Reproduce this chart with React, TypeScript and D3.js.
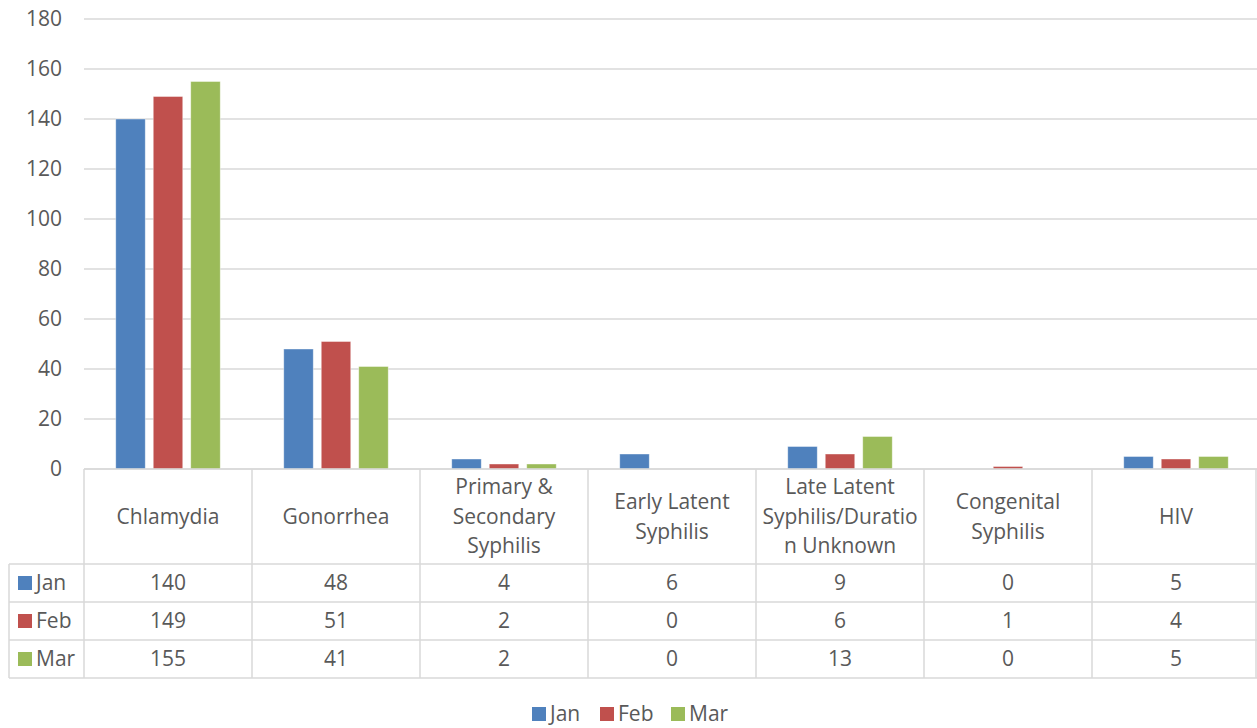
import React from "react";
import * as d3 from "d3";

const categories = [
  "Chlamydia",
  "Gonorrhea",
  "Primary & Secondary Syphilis",
  "Early Latent Syphilis",
  "Late Latent Syphilis/Duration Unknown",
  "Congenital Syphilis",
  "HIV",
];
const categoryLines = [
  ["Chlamydia"],
  ["Gonorrhea"],
  ["Primary &", "Secondary", "Syphilis"],
  ["Early Latent", "Syphilis"],
  ["Late Latent", "Syphilis/Duratio", "n Unknown"],
  ["Congenital", "Syphilis"],
  ["HIV"],
];
const seriesNames = ["Jan", "Feb", "Mar"];
const janValues = [140, 48, 4, 6, 9, 0, 5];
const febValues = [149, 51, 2, 0, 6, 1, 4];
const marValues = [155, 41, 2, 0, 13, 0, 5];
const seriesValues = [janValues, febValues, marValues];
const seriesColors = ["#4F81BD", "#C0504D", "#9BBB59"];
const yTicks = [0, 20, 40, 60, 80, 100, 120, 140, 160, 180];

const W = 1257;
const H = 728;
const plotLeft = 84;
const plotRight = 1260;
const plotTop = 19;
const plotBottom = 469;
const headerBottom = 564;
const rowH = 38;
const tableLeft = 9;
const font = "'Open Sans', 'Noto Sans', sans-serif";
const fs = 21;
const textColor = "#595959";
const gridColor = "#D9D9D9";

export default function App() {
  const x0 = d3.scaleBand<string>().domain(categories).range([plotLeft, plotRight]);
  const x1 = d3
    .scaleBand<string>()
    .domain(seriesNames)
    .range([0, x0.bandwidth()])
    .paddingInner(0.213)
    .paddingOuter(0.847);
  const y = d3.scaleLinear().domain([0, 180]).range([plotBottom, plotTop]);

  const tableBottom = headerBottom + rowH * seriesNames.length;

  return (
    <svg width={W} height={H} style={{ display: "block", position: "absolute", left: 0, top: 0 }} fontFamily={font}>
      <rect x={0} y={0} width={W} height={H} fill="#fff" />
      {yTicks.map((t) => (
        <line key={t} x1={plotLeft} x2={W} y1={y(t)} y2={y(t)} stroke={gridColor} strokeWidth={1.5} />
      ))}
      {yTicks.map((t) => (
        <text key={"l" + t} x={62} y={y(t)} dy="0.35em" textAnchor="end" fontSize={fs} fill={textColor}>
          {t}
        </text>
      ))}
      {categories.map((c, ci) => (
        <g key={c} transform={`translate(${x0(c)},0)`}>
          {seriesNames.map((s, si) => {
            const v = seriesValues[si][ci];
            if (v <= 0) return null;
            return (
              <rect
                key={s}
                x={x1(s)}
                y={y(v)}
                width={x1.bandwidth()}
                height={y(0) - y(v)}
                fill={seriesColors[si]}
                stroke="#fff"
                strokeOpacity={0.5}
                strokeWidth={0.8}
              />
            );
          })}
        </g>
      ))}
      <g stroke={gridColor} strokeWidth={1.5}>
        <line x1={plotLeft} x2={W} y1={plotBottom} y2={plotBottom} />
        {seriesNames.map((s, i) => (
          <line key={s} x1={tableLeft} x2={W} y1={headerBottom + i * rowH} y2={headerBottom + i * rowH} />
        ))}
        <line x1={tableLeft} x2={W} y1={tableBottom} y2={tableBottom} />
        <line x1={tableLeft} x2={tableLeft} y1={headerBottom} y2={tableBottom} />
        {categories.map((c) => (
          <line key={c} x1={x0(c)} x2={x0(c)} y1={plotBottom} y2={tableBottom} />
        ))}
        <line x1={W - 1} x2={W - 1} y1={plotBottom} y2={tableBottom} />
      </g>
      {categories.map((c, ci) => {
        const lines = categoryLines[ci];
        const cx = (x0(c) as number) + x0.bandwidth() / 2;
        const cy = (plotBottom + headerBottom) / 2;
        const lh = 29.5;
        return (
          <text key={c} x={cx} textAnchor="middle" fontSize={fs} fill={textColor}>
            {lines.map((ln, li) => (
              <tspan key={li} x={cx} y={cy + (li - (lines.length - 1) / 2) * lh} dy="0.35em">
                {ln}
              </tspan>
            ))}
          </text>
        );
      })}
      {seriesNames.map((s, si) => {
        const cy = headerBottom + si * rowH + rowH / 2;
        return (
          <g key={s}>
            <rect x={18} y={cy - 7} width={14} height={14} fill={seriesColors[si]} />
            <text x={36} y={cy} dy="0.35em" fontSize={fs} fill={textColor}>
              {s}
            </text>
            {categories.map((c, ci) => (
              <text
                key={c}
                x={(x0(c) as number) + x0.bandwidth() / 2}
                y={cy}
                dy="0.35em"
                textAnchor="middle"
                fontSize={fs}
                fill={textColor}
              >
                {seriesValues[si][ci]}
              </text>
            ))}
          </g>
        );
      })}
      {(() => {
        const itemX = [532, 600, 671];
        const ly = 714;
        return seriesNames.map((s, si) => (
          <g key={s}>
            <rect x={itemX[si]} y={ly - 7} width={14} height={14} fill={seriesColors[si]} />
            <text x={itemX[si] + 18} y={ly} dy="0.35em" fontSize={fs} fill={textColor}>
              {s}
            </text>
          </g>
        ));
      })()}
    </svg>
  );
}
